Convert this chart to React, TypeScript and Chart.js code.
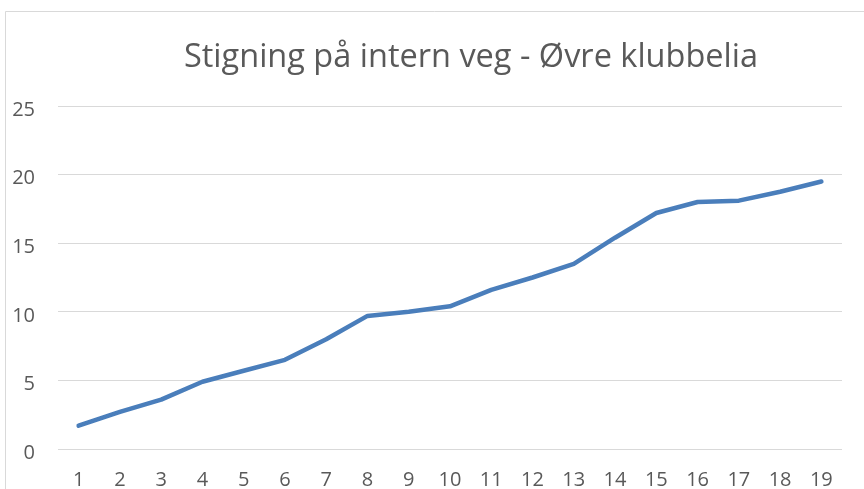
import React, { useEffect, useRef } from "react";
import { Chart, registerables } from "chart.js";

Chart.register(...registerables);

const categories = ["1","2","3","4","5","6","7","8","9","10","11","12","13","14","15","16","17","18","19"];
const values = [1.7, 2.7, 3.6, 4.9, 5.7, 6.5, 8.0, 9.7, 10.0, 10.4, 11.6, 12.5, 13.5, 15.4, 17.2, 18.0, 18.1, 18.75, 19.5];
const titleText = "Stigning på intern veg - Øvre klubbelia";

const frameAndTitle = {
  id: "frameAndTitle",
  beforeDraw(chart: any) {
    const ctx = chart.ctx;
    ctx.save();
    ctx.fillStyle = "#ffffff";
    ctx.fillRect(0, 0, chart.width, chart.height);
    ctx.strokeStyle = "#d9d9d9";
    ctx.lineWidth = 1;
    ctx.beginPath();
    ctx.moveTo(5.5, chart.height);
    ctx.lineTo(5.5, 11.5);
    ctx.lineTo(chart.width, 11.5);
    ctx.stroke();
    ctx.restore();
  },
  afterDraw(chart: any) {
    const ctx = chart.ctx;
    ctx.save();
    ctx.font = '32.5px "Open Sans"';
    ctx.fillStyle = "#595959";
    ctx.textAlign = "center";
    ctx.textBaseline = "alphabetic";
    ctx.fillText(titleText, 471, 67);
    ctx.restore();
  },
};

export default function App() {
  const ref = useRef<HTMLCanvasElement>(null);
  useEffect(() => {
    const chart = new Chart(ref.current!, {
      type: "line",
      data: {
        labels: categories,
        datasets: [
          {
            data: values,
            borderColor: "#4a7ebb",
            borderWidth: 4.5,
            borderCapStyle: "round",
            borderJoinStyle: "round",
            pointRadius: 0,
            tension: 0,
            fill: false,
          },
        ],
      },
      options: {
        animation: false,
        responsive: false,
        devicePixelRatio: 1,
        layout: { padding: { left: 0, right: 22, top: 106, bottom: 0 } },
        plugins: { legend: { display: false }, title: { display: false }, tooltip: { enabled: false } },
        scales: {
          x: {
            offset: true,
            grid: { display: false, drawTicks: false },
            border: { display: false },
            ticks: { color: "#595959", font: { family: "Open Sans", size: 20 }, padding: 19, autoSkip: false, maxRotation: 0 },
            afterFit: (s: any) => { s.height = 40; },
          },
          y: {
            min: 0,
            max: 25,
            grid: { color: "#d9d9d9", lineWidth: 1, drawTicks: false },
            border: { display: false },
            ticks: { stepSize: 5, color: "#595959", font: { family: "Open Sans", size: 20 }, padding: 23, labelOffset: 4 },
            afterFit: (s: any) => { s.width = 58; },
          },
        },
      },
      plugins: [frameAndTitle],
    });
    return () => chart.destroy();
  }, []);
  return (
    <div style={{ position: "fixed", left: 0, top: 0, width: 864, height: 489 }}>
      <canvas ref={ref} width={864} height={489} style={{ display: "block" }} />
    </div>
  );
}
